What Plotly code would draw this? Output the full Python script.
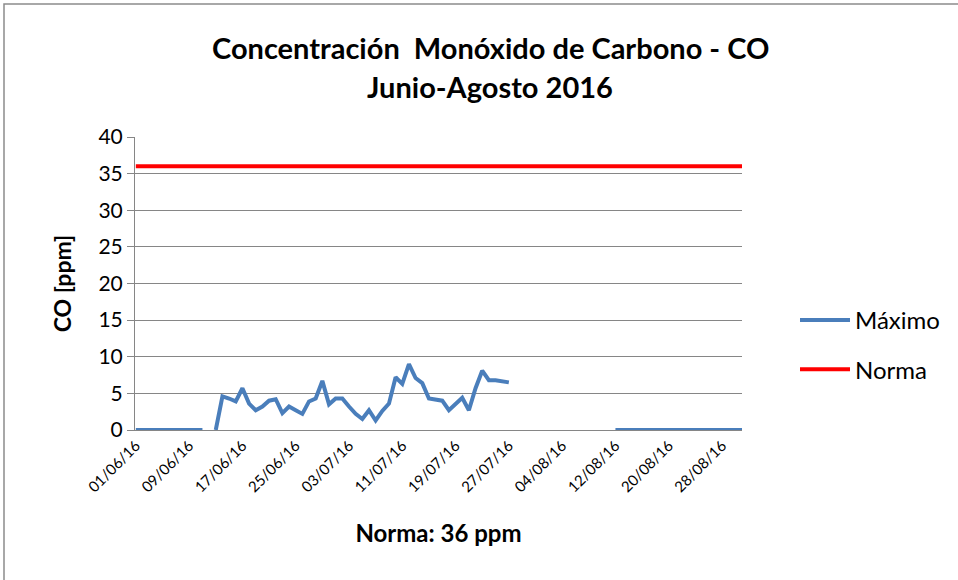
import pandas as pd
import plotly.graph_objects as go

# Daily maximum CO (ppm), 01/06/2016 - 31/08/2016; None = no data
fechas = pd.date_range("2016-06-01", "2016-08-31", freq="D")
maximo = (
    [0] * 11 + [None] + [0, 4.6, 4.3, 3.9, 5.7, 3.6, 2.7, 3.2, 4.0, 4.2, 2.3, 3.2, 2.7, 2.2,
                         3.9, 4.3, 6.7, 3.5, 4.3, 4.3, 3.2, 2.2, 1.5, 2.7, 1.3, 2.6, 3.6, 7.2,
                         6.3, 9.0, 7.1, 6.4, 4.3, 4.2, 4.0, 2.7, 3.5, 4.4, 2.7, 5.7, 8.1, 6.8,
                         6.8, 6.7, 6.5]
    + [None] * 15 + [0] * 20
)
norma = [36] * len(fechas)

tick_fechas = pd.date_range("2016-06-01", "2016-08-31", freq="8D")
tick_texto = [f.strftime("%d/%m/%y") for f in tick_fechas]

FONT = "Lato, Calibri, sans-serif"
GRID = "#868686"

fig = go.Figure()
fig.add_trace(go.Scatter(
    x=fechas, y=maximo, name="Máximo", mode="lines", legendgroup="a",
    line={"color": "#4a7ebb", "width": 4},
    connectgaps=False,
))
fig.add_trace(go.Scatter(
    x=fechas, y=norma, name="Norma", mode="lines", legendgroup="b",
    line={"color": "#ff0000", "width": 4},
))

# chart titles as two annotations to keep the line spacing of the original
for txt, ypix in [("<b>Concentración  Monóxido de Carbono - CO</b>", 48),
                  ("<b>Junio-Agosto 2016</b>", 87)]:
    fig.add_annotation(text=txt, xref="paper", yref="paper",
                       x=(490 - 135) / 607, y=(430 - ypix) / 293,
                       xanchor="center", yanchor="middle", showarrow=False,
                       font={"size": 29, "family": FONT, "color": "#000000"})

# outer chart border
fig.add_shape(type="rect", xref="paper", yref="paper",
              x0=(4 - 135) / 607, x1=(1000 - 135) / 607,
              y0=(430 - 620) / 293, y1=(430 - 4) / 293,
              line={"color": "#8c8c8c", "width": 1.5}, layer="below")

fig.update_layout(
    width=958, height=580,
    margin=dict(l=135, r=216, t=137, b=150),
    paper_bgcolor="white",
    plot_bgcolor="white",
    font={"family": FONT, "color": "#000000"},
    xaxis=dict(
        type="date",
        range=["2016-05-31 21:00", "2016-08-31 00:00"],
        tickvals=tick_fechas, ticktext=tick_texto,
        tickangle=-45, tickfont={"size": 15},
        showgrid=False, showline=True, linecolor=GRID, linewidth=1,
        ticks="", zeroline=False,
        title={"text": "<b>Norma: 36 ppm</b>", "font": {"size": 24}, "standoff": 30},
    ),
    yaxis=dict(
        range=[0, 40], dtick=5,
        tickfont={"size": 21},
        showgrid=True, gridcolor=GRID, gridwidth=1,
        showline=True, linecolor=GRID, linewidth=1,
        ticks="outside", ticklen=7, tickcolor=GRID,
        zeroline=False,
        title={"text": "<b>CO [ppm]</b>", "font": {"size": 23}, "standoff": 20},
    ),
    legend=dict(
        x=(795 - 135) / 607, y=(430 - 345) / 293,
        xanchor="left", yanchor="middle",
        font={"size": 24}, tracegroupgap=15,
        itemwidth=50,
    ),
)

fig.write_html("out.html", config={"displayModeBar": False},
               post_script="document.body.style.margin='0';")
